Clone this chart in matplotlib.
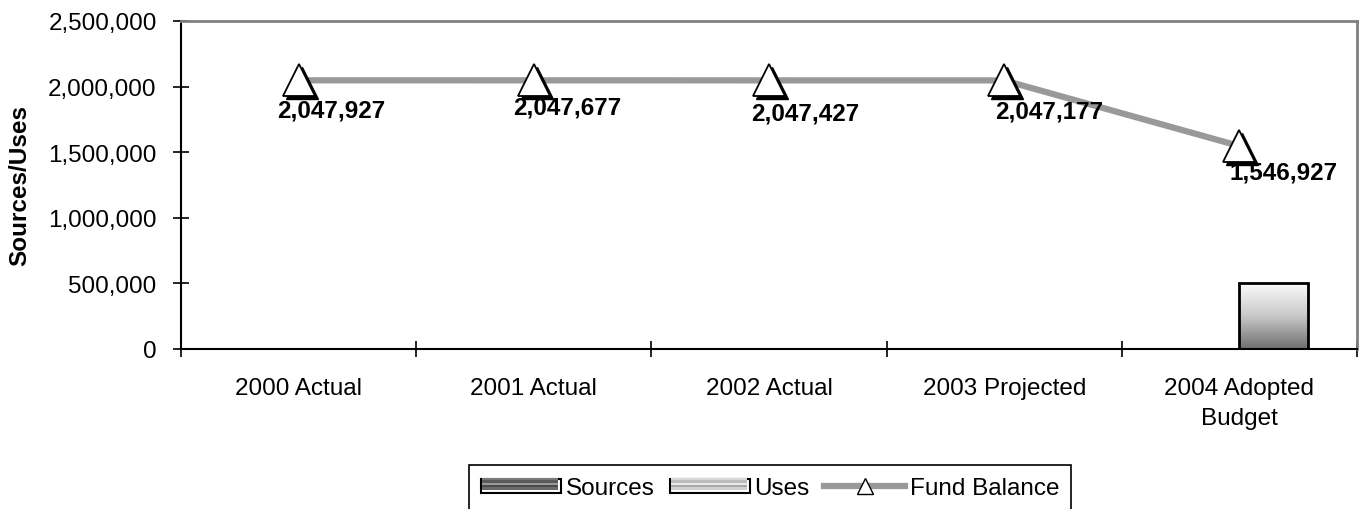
import matplotlib.pyplot as plt
import matplotlib.transforms as mtransforms
from matplotlib.colors import LinearSegmentedColormap
from matplotlib.legend_handler import HandlerBase
from matplotlib.patches import Rectangle, Patch
from matplotlib.lines import Line2D
from matplotlib.ticker import FuncFormatter
import numpy as np

# fund data by year
years = ["2000 Actual", "2001 Actual", "2002 Actual", "2003 Projected", "2004 Adopted\nBudget"]
sources = [0, 0, 0, 0, 0]
uses = [250, 250, 250, 250, 500250]
fund_balance = [2047927, 2047677, 2047427, 2047177, 1546927]

# label nudges (pixels right / down from each marker)
label_dx = [33, 33, 36, 45, 44]
label_dy = [30, 27, 33, 31, 26]

plt.rcParams['font.family'] = ['Liberation Sans', 'DejaVu Sans']
plt.rcParams['font.size'] = 17.5

fig = plt.figure(figsize=(13.63, 5.10), dpi=100)
ax = fig.add_axes([181 / 1363, 1 - 350 / 510, (1357 - 181) / 1363, (350 - 22) / 510])

x = np.arange(len(years))
w = 0.29

dark_cmap = LinearSegmentedColormap.from_list("dark", ["#8a8a8a", "#4a4a4a", "#6a6a6a"])
light_cmap = LinearSegmentedColormap.from_list("light", ["#fbfbfb", "#c8c8c8", "#6e6e6e"])


def gradient_bars(xpos, heights, cmap):
    bars = ax.bar(xpos, heights, w, facecolor="none", edgecolor="black", linewidth=2, zorder=3)
    grad = np.linspace(0, 1, 256).reshape(-1, 1)
    for b in bars:
        h = b.get_height()
        if h <= 0:
            continue
        x0 = b.get_x()
        im = ax.imshow(grad, extent=[x0, x0 + b.get_width(), 0, h], origin="upper",
                       aspect="auto", cmap=cmap, zorder=2)
        im.set_clip_path(b)


gradient_bars(x - w / 2, sources, dark_cmap)
gradient_bars(x + w / 2, uses, light_cmap)

# fund balance line with shadowed triangle markers
ax.plot(x, fund_balance, color="#999999", linewidth=4.5, zorder=4, solid_capstyle="butt")
shadow = mtransforms.offset_copy(ax.transData, fig=fig, x=3, y=-3, units="dots")
ax.plot(x, fund_balance, linestyle="none", marker="^", markersize=23, color="black",
        transform=shadow, zorder=5)
ax.plot(x, fund_balance, linestyle="none", marker="^", markersize=23,
        markerfacecolor="white", markeredgecolor="black", markeredgewidth=1.3, zorder=6)

for xi, v, dx, dy in zip(x, fund_balance, label_dx, label_dy):
    ax.annotate(f"{v:,}", (xi, v), xytext=(dx, -dy), textcoords="offset pixels",
                ha="center", va="center", fontweight="bold", fontsize=17.5, zorder=7)

ax.set_xlim(-0.5, len(years) - 0.5)
ax.set_ylim(0, 2500000)
ax.set_yticks(np.arange(0, 2500001, 500000))
ax.yaxis.set_major_formatter(FuncFormatter(lambda v, p: f"{int(v):,}"))

ax.set_xticks(np.arange(-0.5, len(years)), labels=[""] * (len(years) + 1))
ax.set_xticks(x, labels=years, minor=True)
for lbl in ax.get_xticklabels(minor=True):
    lbl.set_linespacing(1.5)
ax.tick_params(axis="x", which="major", direction="inout", length=11, width=1.2)
ax.tick_params(axis="x", which="minor", length=0, pad=20)
ax.tick_params(axis="y", direction="inout", length=11, width=1.2, pad=12)

ax.set_ylabel("Sources/Uses", fontweight="bold", labelpad=12)

for side in ["top", "right"]:
    ax.spines[side].set_color("#808080")
    ax.spines[side].set_linewidth(2)
for side in ["left", "bottom"]:
    ax.spines[side].set_color("black")
    ax.spines[side].set_linewidth(1.5)


class HandlerBands(HandlerBase):
    def __init__(self, colors):
        super().__init__()
        self.colors = colors

    def create_artists(self, legend, orig_handle, xdescent, ydescent, width, height, fontsize, trans):
        arts = []
        n = len(self.colors)
        y0 = -ydescent
        hh = height * 0.9
        # black outline, with the banded fill shifted a little up-left inside it
        arts.append(Rectangle((-xdescent, y0), width, hh, facecolor="white",
                              edgecolor="black", linewidth=1.5, transform=trans))
        fy = y0 + 2.5
        fh = hh - 1.5
        for i, c in enumerate(self.colors):
            arts.append(Rectangle((-xdescent + 1, fy + fh * (n - 1 - i) / n), width - 3, fh / n,
                                  facecolor=c, edgecolor="none", transform=trans))
        return arts


src_handle = Patch(label="Sources")
use_handle = Patch(label="Uses")
fb_handle = Line2D([], [], color="#999999", linewidth=4.5, marker="^", markersize=12,
                   markerfacecolor="white", markeredgecolor="black", label="Fund Balance")

leg = fig.legend(handles=[src_handle, use_handle, fb_handle],
                 handler_map={src_handle: HandlerBands(["#7a7a7a", "#5a5a5a", "#9a9a9a", "#4a4a4a", "#6a6a6a"]),
                              use_handle: HandlerBands(["#d8d8d8", "#bcbcbc", "#e8e8e8", "#a8a8a8", "#d0d0d0"])},
                 loc="upper center", bbox_to_anchor=(770 / 1363, 1 - 466 / 510), ncol=3,
                 frameon=True, fancybox=False, edgecolor="black", framealpha=1,
                 handlelength=3.3, handleheight=0.6, handletextpad=0.2, columnspacing=0.6,
                 borderpad=0.5, borderaxespad=0, fontsize=17.5)
leg.get_frame().set_linewidth(1.2)

fig.savefig("out.png", dpi=100)
